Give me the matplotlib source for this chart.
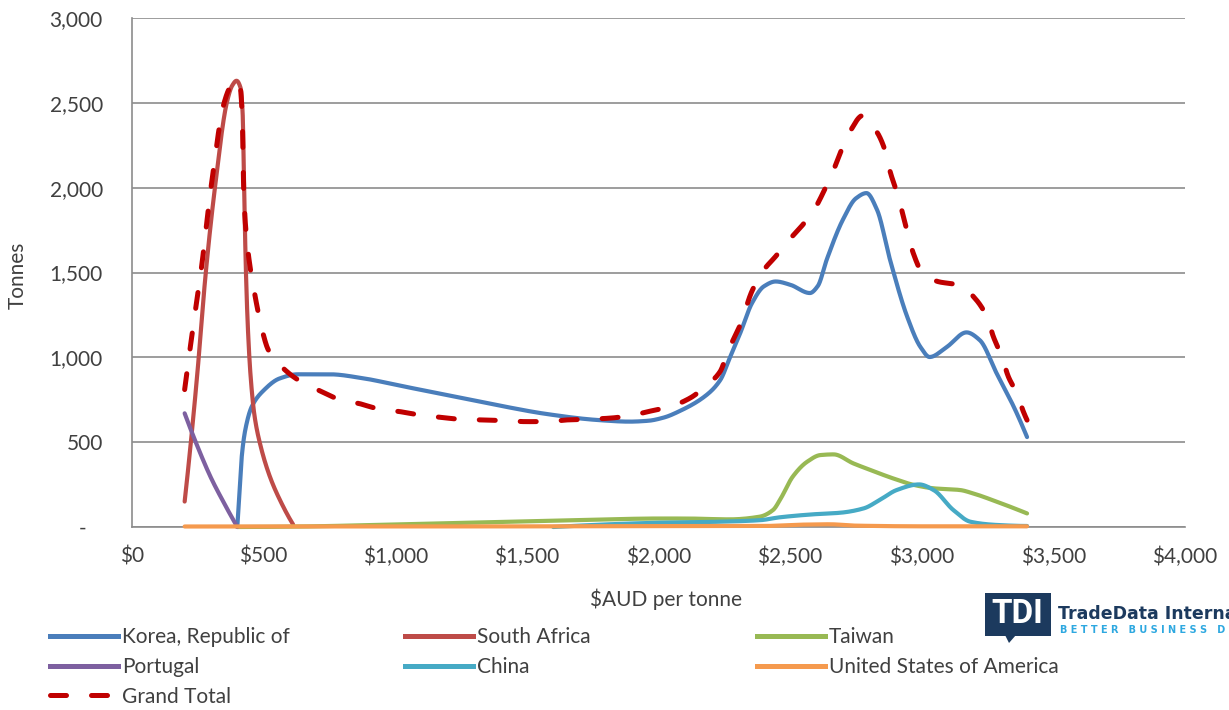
import numpy as np
import matplotlib
matplotlib.use("Agg")
import matplotlib.pyplot as plt
from matplotlib.lines import Line2D
from matplotlib.patches import Rectangle, Polygon

# values ($AUD per tonne -> tonnes)
korea_x = [400, 408, 416, 430, 455, 500, 560, 630, 750, 880, 1005, 1195, 1385, 1575,
           1765, 1890, 1960, 2020, 2080, 2180, 2235, 2270, 2310, 2355, 2400, 2445, 2500,
           2575, 2605, 2640, 2700, 2750, 2790, 2830, 2880, 2945, 2995, 3030, 3095,
           3170, 3220, 3285, 3350, 3400]
korea_y = [0, 200, 400, 570, 710, 805, 875, 900, 900, 876, 837, 778, 719, 666,
           631, 621, 626, 645, 683, 775, 867, 994, 1141, 1319, 1418, 1447, 1428,
           1379, 1420, 1580, 1810, 1937, 1968, 1870, 1572, 1238, 1061, 1002, 1061,
           1147, 1102, 904, 707, 530]

safrica_x = [200, 246, 280, 315, 360, 380, 397, 412, 420, 426, 432, 440, 450, 465,
             486, 524, 568, 612]
safrica_y = [150, 866, 1495, 2000, 2500, 2600, 2630, 2590, 2450, 2000, 1550, 1180,
             900, 660, 493, 296, 140, 15]

taiwan_x = [400, 600, 1000, 1400, 1800, 2000, 2100, 2270, 2385, 2435, 2465, 2510,
            2565, 2615, 2665, 2740, 2805, 2890, 2970, 3045, 3145, 3195, 3285, 3400]
taiwan_y = [0, 2, 15, 30, 45, 50, 50, 45, 61, 100, 170, 297, 385, 424, 428, 375,
            336, 287, 248, 228, 218, 198, 149, 80]

portugal_x = [200, 250, 300, 350, 400]
portugal_y = [670, 470, 290, 140, 0]

china_x = [1600, 2000, 2200, 2385, 2460, 2590, 2690, 2780, 2840, 2905, 2990, 3045,
           3120, 3185, 3285, 3400]
china_y = [0, 25, 30, 40, 57, 75, 84, 110, 159, 218, 251, 218, 100, 31, 12, 6]

usa_x = [200, 1000, 2000, 2400, 2550, 2650, 2750, 3000, 3400]
usa_y = [3, 3, 5, 6, 14, 16, 8, 4, 4]

total_x = [200, 232, 264, 300, 350, 375, 397, 412, 419, 424, 432, 446, 463, 496,
           518, 568, 632, 708, 778, 860, 930, 1018, 1094, 1176, 1246, 1334, 1410,
           1500, 1570, 1650, 1730, 1810, 1885, 1960, 2044, 2120, 2177, 2234, 2265,
           2310, 2355, 2400, 2445, 2495, 2550, 2595, 2630, 2665, 2695, 2727, 2776,
           2829, 2860, 2880, 2910, 2943, 2968, 3000, 3063, 3145, 3202, 3247, 3272,
           3304, 3329, 3361, 3386, 3400]
total_y = [810, 1180, 1530, 2000, 2500, 2600, 2635, 2580, 2400, 2000, 1760, 1560,
           1400, 1150, 1043, 945, 866, 807, 758, 729, 699, 680, 660, 646, 635, 631,
           627, 621, 621, 631, 635, 641, 654, 680, 709, 760, 827, 916, 1040, 1190,
           1390, 1515, 1595, 1690, 1785, 1880, 1985, 2104, 2222, 2330, 2425, 2330,
           2222, 2094, 1950, 1750, 1613, 1505, 1446, 1426, 1348, 1240, 1122, 1004,
           886, 788, 680, 630]

series = [
    ("Korea, Republic of", korea_x, korea_y, "#4A7EBB"),
    ("South Africa", safrica_x, safrica_y, "#BE4B48"),
    ("Taiwan", taiwan_x, taiwan_y, "#98B954"),
    ("Portugal", portugal_x, portugal_y, "#7D60A0"),
    ("China", china_x, china_y, "#46AAC5"),
    ("United States of America", usa_x, usa_y, "#F59A4E"),
]

x_ticks = list(range(0, 4001, 500))
y_ticks = list(range(0, 3001, 500))

TEXT = "#404040"
GRID = "#8C8C8C"
FS = 15
plt.rcParams["font.family"] = ["Lato", "DejaVu Sans"]


def smooth(xk, yk, n=3000):
    """monotone cubic (pchip) through the read points"""
    xk = np.asarray(xk, float)
    yk = np.asarray(yk, float)
    h = np.diff(xk)
    d = np.diff(yk) / h
    m = np.zeros_like(yk)
    for k in range(1, len(xk) - 1):
        if d[k - 1] * d[k] > 0:
            w1 = 2 * h[k] + h[k - 1]
            w2 = h[k] + 2 * h[k - 1]
            m[k] = (w1 + w2) / (w1 / d[k - 1] + w2 / d[k])

    def end(h0, h1, d0, d1):
        mm = ((2 * h0 + h1) * d0 - h0 * d1) / (h0 + h1)
        if np.sign(mm) != np.sign(d0):
            mm = 0.0
        elif np.sign(d0) != np.sign(d1) and abs(mm) > 3 * abs(d0):
            mm = 3 * d0
        return mm

    if len(xk) > 2:
        m[0] = end(h[0], h[1], d[0], d[1])
        m[-1] = end(h[-1], h[-2], d[-1], d[-2])
    else:
        m[:] = d[0]

    xs = np.linspace(xk[0], xk[-1], n)
    idx = np.clip(np.searchsorted(xk, xs) - 1, 0, len(h) - 1)
    t = (xs - xk[idx]) / h[idx]
    h00 = 2 * t**3 - 3 * t**2 + 1
    h10 = t**3 - 2 * t**2 + t
    h01 = -2 * t**3 + 3 * t**2
    h11 = t**3 - t**2
    ys = (h00 * yk[idx] + h10 * h[idx] * m[idx]
          + h01 * yk[idx + 1] + h11 * h[idx] * m[idx + 1])
    return xs, ys


W, H = 1229, 710
fx = lambda px: px / W
fy = lambda py: 1 - py / H

fig = plt.figure(figsize=(W / 100, H / 100), dpi=100)
ax = fig.add_axes([fx(132), fy(527), fx(1185) - fx(132), fy(18) - fy(527)])

handles = {}
for name, xs, ys, col in series:
    sx, sy = smooth(xs, ys)
    ax.plot(sx, sy, color=col, lw=3, solid_capstyle="round", clip_on=False, zorder=3)
    handles[name] = Line2D([], [], color=col, lw=3.6)

tx, ty = smooth(total_x, total_y)
ax.plot(tx, ty, color="#C00000", lw=3.6, dashes=(3.2, 5.0), dash_capstyle="round",
        clip_on=False, zorder=4)
handles["Grand Total"] = Line2D([], [], color="#C00000", lw=3.6, dashes=(3.2, 5.0),
                                dash_capstyle="round")

ax.set_xlim(0, 4000)
ax.set_ylim(0, 3000)
ax.set_xticks(x_ticks)
ax.set_xticklabels([f"${v:,}" for v in x_ticks])
ax.set_yticks(y_ticks)
ax.set_yticklabels(["-   " if v == 0 else f"{v:,}" for v in y_ticks])
ax.tick_params(axis="both", length=0, labelsize=FS, colors=TEXT)
ax.tick_params(axis="y", pad=21)
ax.tick_params(axis="x", pad=14)
ax.grid(axis="y", color=GRID, lw=1.2)
ax.set_axisbelow(True)
for side in ("top", "right"):
    ax.spines[side].set_visible(False)
for side in ("left", "bottom"):
    ax.spines[side].set_color(GRID)
    ax.spines[side].set_linewidth(1.2)

fig.text(fx(18), fy(275), "Tonnes", rotation=90, ha="center", va="center",
         fontsize=FS, color=TEXT)
fig.text(fx(666), fy(599), "$AUD per tonne", ha="center", va="center",
         fontsize=FS, color=TEXT)

# legend laid out in three columns like the original
columns = [
    (50, ["Korea, Republic of", "Portugal", "Grand Total"]),
    (405, ["South Africa", "China"]),
    (757, ["Taiwan", "United States of America"]),
]
for x0, names in columns:
    fig.legend([handles[n] for n in names], names, loc="upper left",
               bbox_to_anchor=(fx(x0), fy(627)), frameon=False, fontsize=FS,
               handlelength=3.25, handletextpad=0.2, labelspacing=0.47,
               borderpad=0, borderaxespad=0, labelcolor=TEXT)

# TradeData International logo
NAVY = "#1C3A5E"
fig.add_artist(Rectangle((fx(985), fy(636)), fx(1051) - fx(985), fy(593) - fy(636),
                         transform=fig.transFigure, color=NAVY, lw=0))
fig.add_artist(Polygon([(fx(1005), fy(635)), (fx(1009), fy(643)), (fx(1016), fy(635))],
                       transform=fig.transFigure, color=NAVY, lw=0))
fig.text(fx(1017), fy(614), "TDI", ha="center", va="center", color="white",
         fontsize=24, fontweight="bold", family="Roboto")
fig.text(fx(1058), fy(619), "TradeData International", ha="left", va="baseline",
         color=NAVY, fontsize=12.5, fontweight="bold", family="DejaVu Sans")
fig.text(fx(1060), fy(633), "B E T T E R   B U S I N E S S   D E C I S I O N S",
         ha="left", va="baseline", color="#2EA8E0", fontsize=7, fontweight="bold",
         family="DejaVu Sans")

fig.savefig("out.png", dpi=100)
